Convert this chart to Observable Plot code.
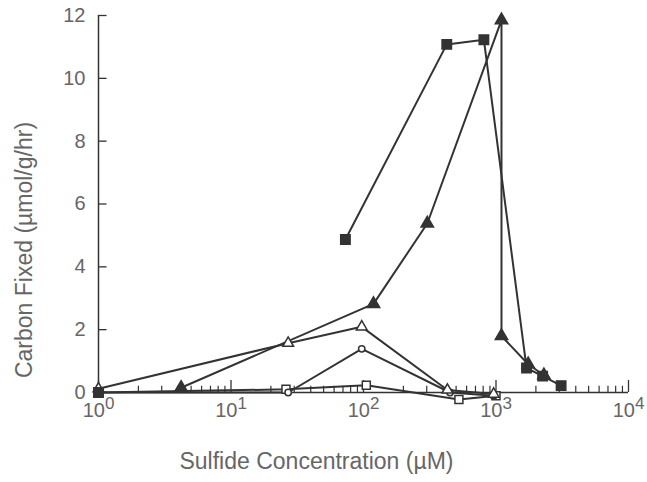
<!DOCTYPE html>
<html>
<head>
<meta charset="utf-8">
<script src="https://cdn.jsdelivr.net/npm/d3@7"></script>
<script src="https://cdn.jsdelivr.net/npm/@observablehq/plot@0.6"></script>
<style>
  html, body { margin: 0; padding: 0; background: #fff; }
  #chart svg { display: block; }
</style>
</head>
<body>
<div id="chart"></div>
<script>
// Sulfide concentration (µM) and carbon fixed (µmol/g/hr) per series
const filledSquareX = [73, 425, 810, 1700, 2250, 3100];
const filledSquareY = [4.87, 11.08, 11.23, 0.78, 0.52, 0.22];
const originSquareX = [1];
const originSquareY = [0];
const filledTriangleX = [4.2, 119, 303, 1100, 1100, 1750, 2300];
const filledTriangleY = [0.15, 2.82, 5.38, 11.85, 1.8, 0.9, 0.55];
const openTriangleX = [1, 27, 97, 430, 960];
const openTriangleY = [0.12, 1.57, 2.09, 0.08, -0.05];
const openCircleX = [1, 27, 97, 450, 960];
const openCircleY = [0, 0, 1.39, 0.0, -0.1];
const openSquareX = [1, 26, 105, 525, 1000];
const openSquareY = [0, 0.1, 0.23, -0.22, -0.1];

const xTicks = [1, 10, 100, 1000, 10000];
const xTickLabels = ["0", "1", "2", "3", "4"];
const yTicks = [0, 2, 4, 6, 8, 10, 12];
const minorTicks = [];
for (let e = 0; e < 4; e++) for (let m = 2; m <= 9; m++) minorTicks.push(m * 10 ** e);

const zip = (xs, ys) => xs.map((x, i) => ({x, y: ys[i]}));
const fsq = zip(filledSquareX, filledSquareY);
const osq0 = zip(originSquareX, originSquareY);
const ftr = zip(filledTriangleX, filledTriangleY);
const otr = zip(openTriangleX, openTriangleY);
const oci = zip(openCircleX, openCircleY);
const osq = zip(openSquareX, openSquareY);

const ink = "#333";
const textColor = "#666";

const chart = Plot.plot({
  width: 647,
  height: 482,
  marginLeft: 98,
  marginRight: 19,
  marginTop: 15,
  marginBottom: 90,
  style: {fontFamily: "'Liberation Sans', Arial, sans-serif", color: textColor, background: "#fff"},
  x: {type: "log", domain: [1, 10000]},
  y: {domain: [0, 12]},
  marks: [
    // axis lines
    Plot.ruleX([1], {y1: 0, y2: 12, stroke: ink, strokeWidth: 1.5}),
    Plot.ruleY([0], {x1: 1, x2: 10000, stroke: ink, strokeWidth: 1.5}),
    // inward y ticks
    Plot.ruleY(yTicks, {x1: 1, x2: 1.16, stroke: ink, strokeWidth: 1.3}),
    // inward x ticks
    Plot.ruleX(xTicks, {y1: 0, y2: 0.38, stroke: ink, strokeWidth: 1.3}),
    Plot.ruleX(minorTicks, {y1: 0, y2: 0.2, stroke: ink, strokeWidth: 1.2}),
    Plot.axisY({ticks: yTicks, tickSize: 0, tickPadding: 13, fontSize: 20, label: null}),
    Plot.axisX({ticks: xTicks, tickSize: 0, tickPadding: 10, fontSize: 20, label: null,
      tickFormat: (d) => "10^" + xTickLabels[xTicks.indexOf(d)]}),
    Plot.text(["Carbon Fixed (\u00b5mol/g/hr)"], {frameAnchor: "left", textAnchor: "middle", dx: -74, dy: 46, rotate: -90, fontSize: 23, fill: textColor}),
    Plot.text(["Sulfide Concentration (\u00b5M)"], {frameAnchor: "bottom", dx: -47, dy: 76, fontSize: 23, fill: textColor}),
    // series lines
    Plot.line(fsq, {x: "x", y: "y", stroke: ink, strokeWidth: 2}),
    Plot.line(ftr, {x: "x", y: "y", stroke: ink, strokeWidth: 2}),
    Plot.line(otr, {x: "x", y: "y", stroke: ink, strokeWidth: 2}),
    Plot.line(oci, {x: "x", y: "y", stroke: ink, strokeWidth: 2}),
    Plot.line(osq, {x: "x", y: "y", stroke: ink, strokeWidth: 2}),
    // markers
    Plot.dot(osq, {x: "x", y: "y", symbol: "square", r: 4.5, fill: "#fff", stroke: ink, strokeWidth: 1.5}),
    Plot.dot(oci, {x: "x", y: "y", symbol: "circle", r: 3.2, fill: "#fff", stroke: ink, strokeWidth: 1.5}),
    Plot.dot(otr, {x: "x", y: "y", symbol: "triangle", r: 4, fill: "#fff", stroke: ink, strokeWidth: 1.5}),
    Plot.dot(ftr, {x: "x", y: "y", symbol: "triangle", r: 4.6, fill: ink, stroke: ink}),
    Plot.dot(fsq, {x: "x", y: "y", symbol: "square", r: 5.3, fill: ink, stroke: ink}),
    Plot.dot(osq0, {x: "x", y: "y", symbol: "square", r: 5.3, fill: ink, stroke: ink})
  ]
});

// render 10^n tick labels with real superscripts
d3.select(chart).selectAll("text").each(function() {
  const t = this.textContent;
  const m = /^10\^(\d)$/.exec(t);
  if (m) {
    const el = d3.select(this);
    el.text("10");
    el.append("tspan").attr("dy", "-0.45em").attr("font-size", "0.85em").text(m[1]);
  }
});

document.getElementById("chart").appendChild(chart);
</script>
</body>
</html>
